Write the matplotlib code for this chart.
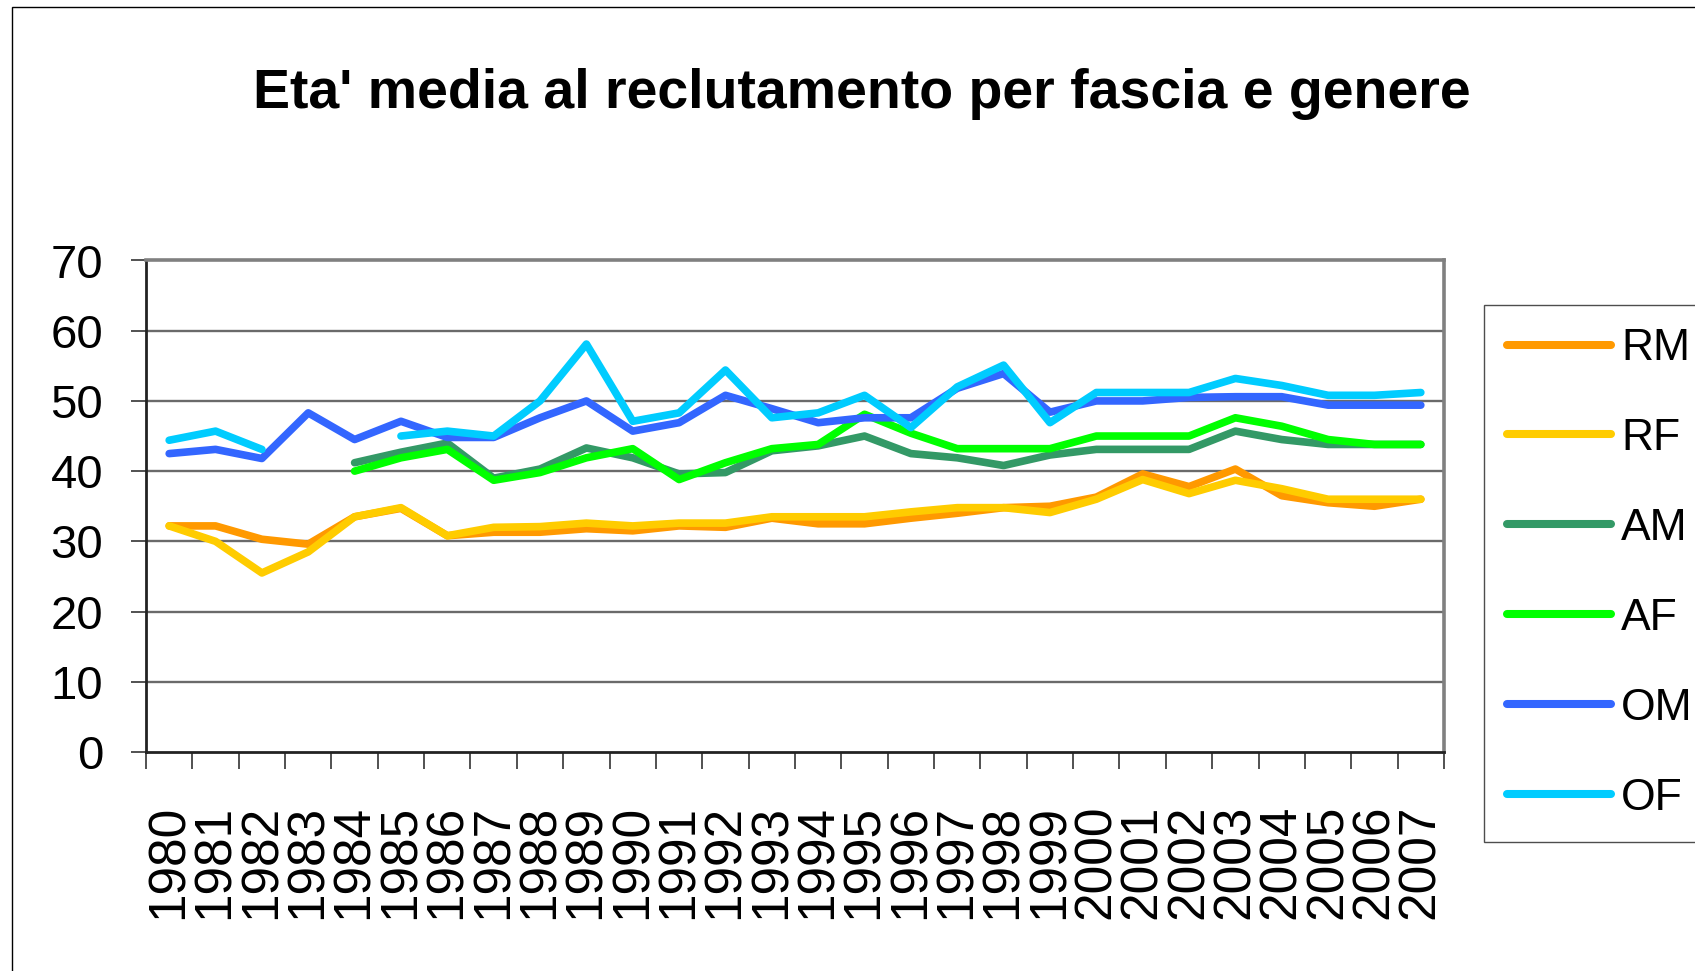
import numpy as np
import matplotlib
matplotlib.use("Agg")
import matplotlib.pyplot as plt
from matplotlib.patches import Rectangle

nan = np.nan
years = [str(y) for y in range(1980, 2008)]
RM = [32.2, 32.2, 30.3, 29.6, 33.5, 34.7, 30.8, 31.3, 31.3, 31.8, 31.5, 32.2, 32.0, 33.3,
      32.5, 32.5, 33.3, 34.0, 34.8, 35.0, 36.3, 39.6, 37.8, 40.3, 36.5, 35.5, 35.0, 36.0]
RF = [32.2, 30.0, 25.5, 28.5, 33.5, 34.8, 30.8, 32.0, 32.1, 32.6, 32.2, 32.6, 32.6, 33.5,
      33.5, 33.5, 34.2, 34.8, 34.8, 34.1, 36.0, 38.8, 36.8, 38.7, 37.5, 36.0, 36.0, 36.0]
AM = [nan, nan, nan, nan, 41.2, 42.7, 44.0, 39.0, 40.3, 43.3, 41.9, 39.6, 39.8, 42.9,
      43.6, 45.0, 42.5, 41.9, 40.8, 42.3, 43.1, 43.1, 43.1, 45.7, 44.5, 43.8, 43.8, 43.8]
AF = [nan, nan, nan, nan, 40.0, 41.9, 43.1, 38.7, 39.8, 41.9, 43.2, 38.8, 41.2, 43.2,
      43.8, 48.1, 45.4, 43.2, 43.2, 43.2, 45.0, 45.0, 45.0, 47.6, 46.4, 44.5, 43.8, 43.8]
OM = [42.5, 43.1, 41.8, 48.3, 44.5, 47.1, 44.8, 44.8, 47.6, 50.0, 45.7, 46.9, 50.8, 48.9,
      46.9, 47.6, 47.6, 51.8, 53.9, 48.4, 50.0, 50.0, 50.5, 50.6, 50.6, 49.4, 49.4, 49.4]
OF = [44.4, 45.7, 43.1, nan, nan, 45.0, 45.7, 45.0, 50.0, 58.1, 47.1, 48.3, 54.4, 47.6,
      48.3, 50.8, 46.2, 52.0, 55.1, 46.9, 51.2, 51.2, 51.2, 53.2, 52.2, 50.8, 50.8, 51.2]
series_names = ["RM", "RF", "AM", "AF", "OM", "OF"]
series_values = [RM, RF, AM, AF, OM, OF]
colors = ["#FF9900", "#FFCC00", "#339966", "#00FF00", "#3366FF", "#00CCFF"]
yticks = [0, 10, 20, 30, 40, 50, 60, 70]
title = "Eta' media al reclutamento per fascia e genere"

FONT = ["Liberation Sans", "DejaVu Sans"]

W, H = 1695, 971
fig = plt.figure(figsize=(W / 100, H / 100), dpi=100)
fig.patch.set_facecolor("white")

# outer chart border
fig.patches.append(Rectangle((12 / W, -0.1), 1.2, 1.1 - 7.5 / H, transform=fig.transFigure,
                             fill=False, edgecolor="black", linewidth=1.0, zorder=0))

L, R, T, B = 146, 1444, 260.5, 752
ax = fig.add_axes([L / W, 1 - B / H, (R - L) / W, (B - T) / H])

x = np.arange(len(years))
for name, vals, c in zip(series_names, series_values, colors):
    ax.plot(x, vals, color=c, linewidth=5.5, label=name,
            solid_capstyle="round", solid_joinstyle="round")

ax.set_xlim(-0.5, len(years) - 0.5)
ax.set_ylim(0, 70)
ax.set_yticks(yticks)
ax.set_yticklabels([str(v) for v in yticks], family=FONT, fontsize=34)
for v in yticks[1:-1]:
    ax.axhline(v, color="#6a6a6a", linewidth=1.7, zorder=0.5)

ax.set_xticks(np.arange(-0.5, len(years)), minor=False)
ax.set_xticklabels([])
ax.set_xticks(x, minor=True)
ax.set_xticklabels(years, minor=True, rotation=90, family=FONT, fontsize=37)
ax.tick_params(axis="x", which="major", direction="out", length=12.5, width=1.2, color="#333333")
ax.tick_params(axis="x", which="minor", length=0, pad=38)
ax.tick_params(axis="y", direction="out", length=10.8, width=1.2, color="#333333", pad=20)

for s in ["left", "bottom"]:
    ax.spines[s].set_color("#222222")
    ax.spines[s].set_linewidth(2.0)
for s in ["top", "right"]:
    ax.spines[s].set_color("#808080")
    ax.spines[s].set_linewidth(2.6)

fig.text(862 / W, 1 - 108 / H, title, ha="center", va="baseline",
         family=FONT, fontweight="bold", fontsize=40)

leg = ax.legend(loc="upper left", bbox_to_anchor=(1484 / W, 1 - 305 / H),
                bbox_transform=fig.transFigure, borderaxespad=0,
                prop={"family": FONT, "size": 32}, handlelength=2.33,
                handletextpad=0.23, labelspacing=1.1, borderpad=0.52,
                fancybox=False, frameon=True)
leg.get_frame().set_edgecolor("#222222")
leg.get_frame().set_linewidth(1.0)
for ln in leg.get_lines():
    ln.set_linewidth(5.8)
    ln.set_solid_capstyle("round")

fig.savefig("out.png", dpi=100)
